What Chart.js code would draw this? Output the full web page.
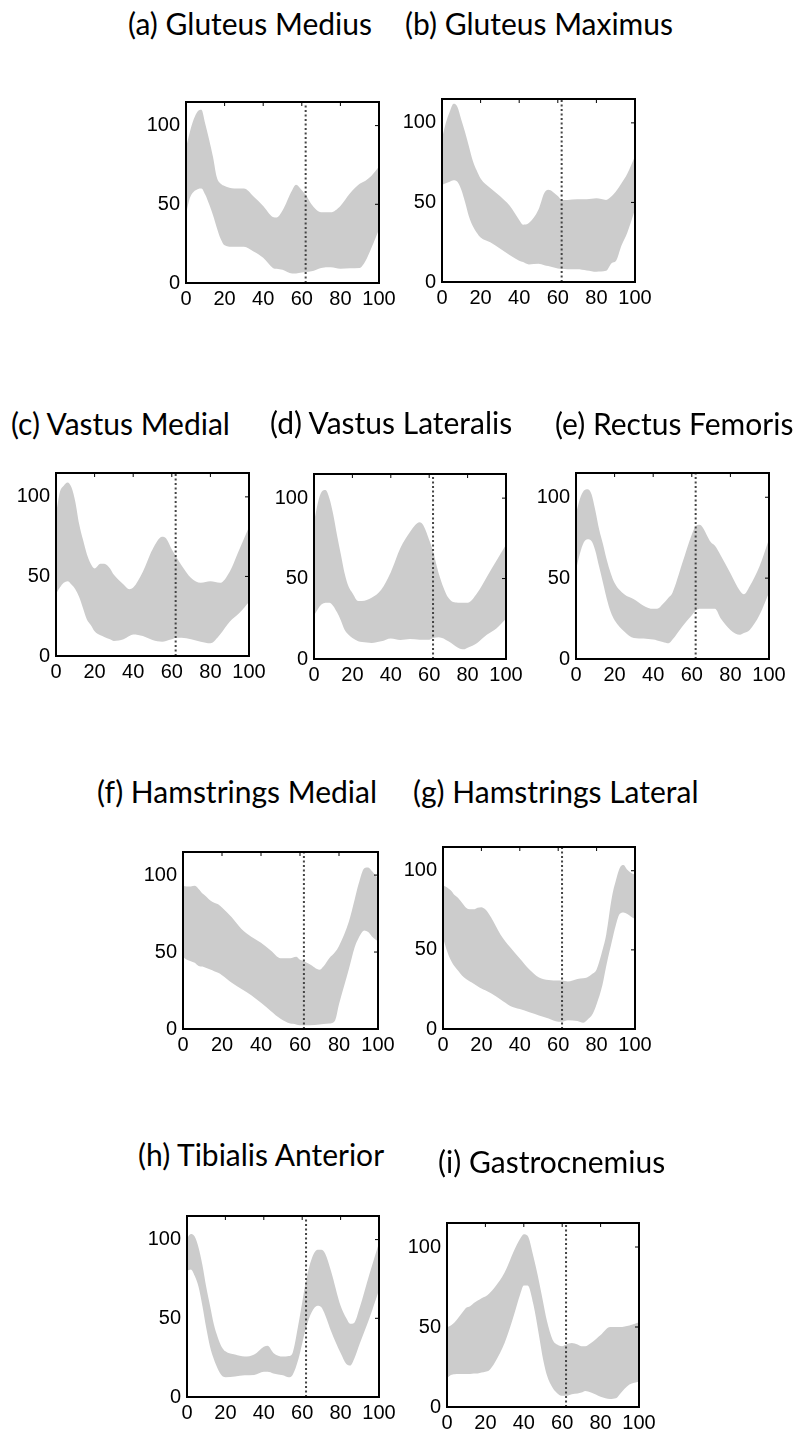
<!DOCTYPE html>
<html>
<head>
<meta charset="utf-8">
<script src="https://cdn.jsdelivr.net/npm/chart.js@4.4.1/dist/chart.umd.min.js"></script>
<style>
  body { margin: 0; background: #fff; width: 797px; height: 1435px; position: relative; overflow: hidden; }
  .panel { position: absolute; }
  .title { position: absolute; font-family: Lato, "Open Sans", sans-serif; font-size: 30px; line-height: 30px; color: #000; white-space: nowrap; }
</style>
</head>
<body>
<script>
// ---- data (percent of gait cycle vs. normalised EMG band) ----
const X_TICKS = [0, 20, 40, 60, 80, 100];
const Y_TICKS = [0, 50, 100];
const Y_MAX = 115;
const EVENT_X = 62; // toe-off, dotted line

const gmedX     = [0,2,4,6,8,10,12,14,16,18,20,25,30,35,40,45,47,50,55,57,60,62,65,70,75,80,85,90,93,96,100];
const gmedUpper = [86,96,104,109,110,101,91,80,67,63,61.6,60,60,55,49,42,41.6,46,59,62.4,59,56,50,45,45,49,57,63,65,68,74];
const gmedLower = [44,54,58,59.6,60,56,50,43,35,28,24,23,23,20,16,9.6,9,8.4,6,6,6.6,7,7.4,9.6,10,9,9.4,9.6,14,22,34];

const gmaxX     = [0,2,4,6,8,10,12,14,16,18,20,25,30,35,40,42,45,50,53,55,60,62,65,70,75,80,85,88,90,93,96,100];
const gmaxUpper = [90,100,107,112,110,102,94,85,76,70,65,59,54,48,39,36,37,45.5,56,58,54,51.6,51.6,52,52,52.6,51.6,54,56.7,62,68,79];
const gmaxLower = [61,62,63,64,63,58,50,41,35,31,28,25,21,17,13.4,12.5,11,11.4,10.5,10,8.5,8.3,8,8,7.3,6.5,7,12,13,23,31,45.5];

const vmX     = [0,2,4,6,8,10,12,14,16,18,20,23,25,28,30,35,38,40,45,50,55,57,60,62,65,70,75,80,85,90,95,100];
const vmUpper = [89,103,107,109,106,97,83,73,64,58,55,58,58,55,51,45,42,43,53,67,75,74,67,63,57,49,46,47,46,53,67,81];
const vmLower = [39,43,46,47,45,42,37,30,23,19.5,15.5,13,12,10.5,9.5,10.5,12.5,13.5,12.5,10,9,9.5,10.5,11.5,11.5,10.5,9,8,13.5,21.5,27,34];

const vlX     = [0,2,4,6,8,10,12,14,16,18,20,23,25,30,35,40,45,50,55,57,60,62,65,70,75,78,80,85,90,95,100];
const vlUpper = [85,97,104,105,100,90,77,65,53,45,41,36,36,38,43,54,69,79,85,83,74,67,53,38,35,35,35,41,51,61,71];
const vlLower = [27,31,34,35,35,33,29,24,18,15,13,11,10.5,10,11,12.8,11.8,12.4,12,12,12,13,13.5,11,7,6,7,10,15,19,25];

const rfX     = [0,2,4,6,8,10,12,14,16,18,20,25,30,35,40,42,45,48,50,55,60,62,64,70,72,75,80,85,87,90,95,100];
const rfUpper = [90,99,104,105,102,92,80,71,61,53,47,40,37,33,31,31,34,38,41,59,77,82,83,72,70,64,53,42,40,45,57,74];
const rfLower = [55,65,72,74,73,67,57,47,37,29,24,17,13,12.7,12,11.5,10.5,9.7,12,20,27,30,31,31,31,25,18,15,16,18,27,41];

const hmX     = [0,2,4,6,8,10,12,14,16,18,20,25,30,35,40,45,50,55,58,60,62,65,70,72,75,78,80,85,88,90,93,95,97,100];
const hmUpper = [93,92.6,92.6,93,91,88,86,83.5,82,81,79,72.6,65,60,56,51,46,46,47,45,44,42,38.5,40.6,46,50,54,69.5,84,94,104.5,105,102.5,98];
const hmLower = [47,45,44,43,41,40.6,39.6,38.6,37.5,36.5,35,30,26,22,17,11.7,6.6,3.5,3,2.5,2.5,2.5,3,3.2,3.5,5.5,16,38.6,53,59,64,63,60,57];

const hlX     = [0,2,4,6,8,10,12,14,16,18,20,22,25,30,35,40,45,50,55,60,62,65,70,73,75,78,80,83,85,88,90,92,94,96,98,100];
const hlUpper = [90.6,89.6,87.6,84.6,82.6,79.6,76.6,75.6,75.6,76.6,77,75.6,70.6,59.6,51.6,44.6,37.6,32.6,31,30.6,30.6,30,31.6,32,32.6,35,37.6,49.6,59.6,83.6,93.6,101.6,103.6,100.6,98.6,97.6];
const hlLower = [57.6,49.6,43.6,39.6,36.6,33.6,31.6,30,28.6,27,25.6,24.5,22.6,18.6,14.6,12.6,10.6,8.6,6.6,4.6,4.6,5.6,5,4,5.6,9.6,15.6,27.6,39.6,55.6,65.6,72.6,73.6,72.6,71,69.6];

const taX     = [0,2,4,6,8,10,12,14,16,18,20,25,30,35,40,42,45,50,53,55,58,60,62,65,68,70,72,75,80,83,85,87,90,95,100];
const taUpper = [101,103.6,102,95,84,70,58,46,38,32,29,27,25.7,27,32,32.5,28,25.7,26,28,46,60,74,88,93.6,93.6,91,80,58,50,46.5,47,57,78,98];
const taLower = [80,81,77,70,58,44,32,24,18,13.8,12.6,13,13.8,14,16,16,15,13.8,12.6,14,24,34,44,54,58,57,52,42,28,21,20,24,34,50,68];

const gaX     = [0,2,4,6,8,10,12,14,16,18,20,22,25,30,35,38,40,42,45,48,50,52,55,58,60,62,65,68,70,72,75,80,85,88,90,95,100];
const gaUpper = [50,51,53,56,59,62,63,65,66.5,68,69,71,75,84,98,105,108,107,94,78,66,54,42,38.6,38,39,40,39,38,38,40,45,50,50,50,51,53];
const gaLower = [18,20,20.5,20.7,20.7,20.7,20.7,21,21,21.5,22,23,28,40,58,70,76,76,64,44,30,20,12,8,7,7,8,8.5,9,10,9,6.4,5,5.4,8,14,16];

// ---- layout: plot box [left, top, right, bottom], title [left, baseline] ----
const panels = [
  { title: '(a) Gluteus Medius',     x: gmedX, up: gmedUpper, lo: gmedLower, box: [186, 92, 379, 283],   t: [128, 35] },
  { title: '(b) Gluteus Maximus',    x: gmaxX, up: gmaxUpper, lo: gmaxLower, box: [442, 89, 635, 282],   t: [405, 35] },
  { title: '(c) Vastus Medial',      x: vmX,   up: vmUpper,   lo: vmLower,   box: [56, 463, 249, 656],   t: [11, 435] },
  { title: '(d) Vastus Lateralis',   x: vlX,   up: vlUpper,   lo: vlLower,   box: [314, 464, 506, 659],  t: [270, 434] },
  { title: '(e) Rectus Femoris',     x: rfX,   up: rfUpper,   lo: rfLower,   box: [576, 463, 769, 659],  t: [555, 435] },
  { title: '(f) Hamstrings Medial',  x: hmX,   up: hmUpper,   lo: hmLower,   box: [183, 842, 378, 1029], t: [97, 803] },
  { title: '(g) Hamstrings Lateral', x: hlX,   up: hlUpper,   lo: hlLower,   box: [443, 837, 635, 1029], t: [413, 803] },
  { title: '(h) Tibialis Anterior',  x: taX,   up: taUpper,   lo: taLower,   box: [187, 1206, 379, 1397], t: [138, 1166] },
  { title: '(i) Gastrocnemius',      x: gaX,   up: gaUpper,   lo: gaLower,   box: [447, 1213, 639, 1407], t: [438, 1173] }
];

const PAD_L = 50, PAD_T = 8, PAD_R = 22, PAD_B = 32;
const tickFont = { family: '"Liberation Sans", Arial, sans-serif', size: 20 };

// box frame with small inward ticks, matlab style
const framePlugin = {
  id: 'frame',
  afterDraw(chart) {
    const { ctx, chartArea: a, scales } = chart;
    ctx.save();
    ctx.strokeStyle = '#000';
    ctx.lineWidth = 2;
    ctx.strokeRect(a.left, a.top, a.right - a.left, a.bottom - a.top);
    ctx.lineWidth = 1;
    ctx.beginPath();
    X_TICKS.forEach(v => {
      const px = scales.x.getPixelForValue(v);
      ctx.moveTo(px, a.top); ctx.lineTo(px, a.top + 4);
    });
    Y_TICKS.forEach(v => {
      const py = scales.y.getPixelForValue(v);
      ctx.moveTo(a.right, py); ctx.lineTo(a.right - 4, py);
    });
    ctx.stroke();
    ctx.restore();
  }
};

panels.forEach(p => {
  const [l, t, r, b] = p.box;
  const div = document.createElement('div');
  div.className = 'panel';
  div.style.left = (l - PAD_L) + 'px';
  div.style.top = (t - PAD_T) + 'px';
  div.style.width = (r - l + PAD_L + PAD_R) + 'px';
  div.style.height = (b - t + PAD_T + PAD_B) + 'px';
  const canvas = document.createElement('canvas');
  div.appendChild(canvas);
  document.body.appendChild(div);

  const title = document.createElement('div');
  title.className = 'title';
  title.textContent = p.title;
  title.style.left = p.t[0] + 'px';
  title.style.top = (p.t[1] - 27) + 'px';
  document.body.appendChild(title);

  new Chart(canvas, {
    type: 'line',
    data: {
      datasets: [
        {
          data: p.x.map((v, i) => ({ x: v, y: p.lo[i] })),
          borderColor: 'rgba(0,0,0,0)', borderWidth: 0, pointRadius: 0,
          cubicInterpolationMode: 'monotone', fill: false, order: 2
        },
        {
          data: p.x.map((v, i) => ({ x: v, y: p.up[i] })),
          borderColor: 'rgba(0,0,0,0)', borderWidth: 0, pointRadius: 0,
          cubicInterpolationMode: 'monotone', fill: '-1', backgroundColor: '#cccccc', order: 2
        },
        {
          data: [{ x: EVENT_X, y: 0 }, { x: EVENT_X, y: Y_MAX }],
          borderColor: '#444', borderWidth: 2, borderDash: [2, 2.5], pointRadius: 0, fill: false, order: 0
        }
      ]
    },
    options: {
      responsive: true,
      maintainAspectRatio: false,
      animation: false,
      layout: { padding: { left: 0, top: PAD_T, right: PAD_R, bottom: 0 } },
      plugins: { legend: { display: false }, tooltip: { enabled: false } },
      scales: {
        x: {
          type: 'linear', min: 0, max: 100,
          afterBuildTicks: s => { s.ticks = X_TICKS.map(v => ({ value: v })); },
          afterFit: s => { s.height = PAD_B; },
          grid: { display: false, drawTicks: false },
          border: { display: false },
          ticks: { color: '#000', font: tickFont, padding: 4, maxRotation: 0, autoSkip: false }
        },
        y: {
          type: 'linear', min: 0, max: Y_MAX,
          afterBuildTicks: s => { s.ticks = Y_TICKS.map(v => ({ value: v })); },
          afterFit: s => { s.width = PAD_L; },
          grid: { display: false, drawTicks: false },
          border: { display: false },
          ticks: { color: '#000', font: tickFont, padding: 6 }
        }
      }
    },
    plugins: [framePlugin]
  });
});
</script>
</body>
</html>
